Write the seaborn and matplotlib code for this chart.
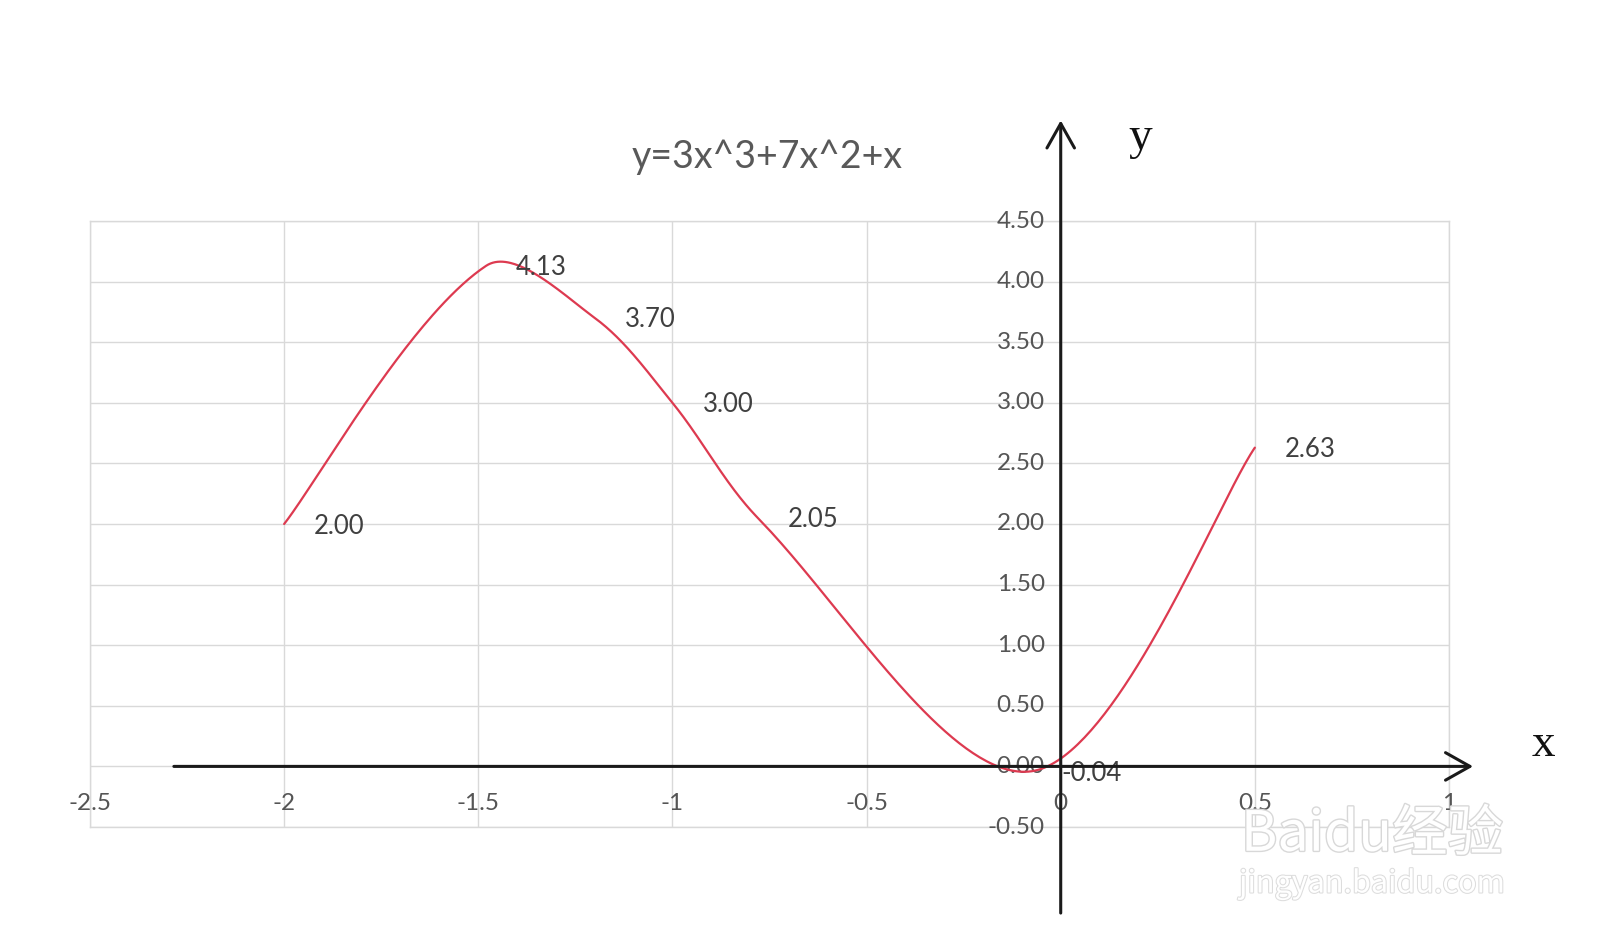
import numpy as np
import pandas as pd
import matplotlib
matplotlib.use("Agg")
import matplotlib.pyplot as plt
import matplotlib.patheffects as pe
import seaborn as sns

# ---- data ----
x_pts = [-2.0, -1.48, -1.2, -1.0, -0.78, -0.075, 0.5]
y_pts = [2.00, 4.13, 3.70, 3.00, 2.05, -0.04, 2.63]
point_labels = ["2.00", "4.13", "3.70", "3.00", "2.05", "-0.04", "2.63"]
x_ticks = [-2.5, -2, -1.5, -1, -0.5, 0, 0.5, 1]
x_tick_labels = ["-2.5", "-2", "-1.5", "-1", "-0.5", "0", "0.5", "1"]
y_ticks = [-0.5, 0, 0.5, 1, 1.5, 2, 2.5, 3, 3.5, 4, 4.5]
y_tick_labels = ["-0.50", "0.00", "0.50", "1.00", "1.50", "2.00", "2.50",
                 "3.00", "3.50", "4.00", "4.50"]
title = "y=3x^3+7x^2+x"

W, H = 1600, 939
AX_L, AX_R, AX_T, AX_B = 90, 1449, 221, 827
SX = (AX_R - AX_L) / 3.5   # pixels per x unit
SY = (AX_B - AX_T) / 5.0   # pixels per y unit


def smooth(xs, ys, n=80):
    """Excel-like smoothed line: cubic Bezier, tangent parallel to the
    neighbour chord, control arms proportional to the adjacent chord lengths
    (computed in screen space)."""
    P = np.column_stack([np.asarray(xs) * SX, np.asarray(ys) * SY]).astype(float)
    m = len(P)
    tang = np.zeros_like(P)
    armf = np.zeros(m)
    armb = np.zeros(m)
    for i in range(m):
        a = P[max(i - 1, 0)]
        b = P[min(i + 1, m - 1)]
        tang[i] = b - a
        d1 = np.linalg.norm(P[i] - a)
        d2 = np.linalg.norm(b - P[i])
        tot = d1 + d2
        armf[i] = d2 / tot / 3.0 if tot else 0
        armb[i] = d1 / tot / 3.0 if tot else 0
    armf[0] = 1 / 6.0
    armb[-1] = 1 / 6.0
    out = []
    t = np.linspace(0, 1, n)[:, None]
    for i in range(m - 1):
        p0, p3 = P[i], P[i + 1]
        c1 = p0 + tang[i] * armf[i]
        c2 = p3 - tang[i + 1] * armb[i + 1]
        seg = ((1 - t) ** 3) * p0 + 3 * ((1 - t) ** 2) * t * c1 + 3 * (1 - t) * t ** 2 * c2 + t ** 3 * p3
        out.append(seg if i == 0 else seg[1:])
    C = np.vstack(out)
    return C[:, 0] / SX, C[:, 1] / SY


sns.set_theme(style="white")
plt.rcParams["font.family"] = ["Lato", "DejaVu Sans"]

fig = plt.figure(figsize=(W / 100, H / 100), dpi=100)
fig.patch.set_facecolor("white")
ax = fig.add_axes([AX_L / W, 1 - AX_B / H, (AX_R - AX_L) / W, (AX_B - AX_T) / H])
ax.set_facecolor("white")

cx, cy = smooth(x_pts, y_pts)
df = pd.DataFrame({"x": cx, "y": cy})
sns.lineplot(data=df, x="x", y="y", sort=False, ax=ax, color="#DD3A50",
             linewidth=1.6, zorder=4)

ax.set_xlim(-2.5, 1)
ax.set_ylim(-0.5, 4.5)
ax.set_xticks(x_ticks)
ax.set_yticks(y_ticks)
ax.grid(True, color="#d9d9d9", linewidth=1.0)
ax.tick_params(length=0, labelbottom=False, labelleft=False)
for s in ax.spines.values():
    s.set_color("#d9d9d9")
    s.set_linewidth(1.0)
ax.set_xlabel("")
ax.set_ylabel("")

# tick labels positioned like Excel (at the axes crossing)
for v, lab in zip(y_ticks, y_tick_labels):
    ax.annotate(lab, xy=(0, v), xytext=(-16, 0), textcoords="offset pixels",
                ha="right", va="center", fontsize=17.5, color="#555555",
                annotation_clip=False, zorder=3)
for v, lab in zip(x_ticks, x_tick_labels):
    ax.annotate(lab, xy=(v, 0), xytext=(0, -37), textcoords="offset pixels",
                ha="center", va="center", fontsize=17.5, color="#555555",
                annotation_clip=False, zorder=3)

# data labels
for xv, yv, lab in zip(x_pts, y_pts, point_labels):
    ax.annotate(lab, xy=(xv, yv), xytext=(30, -2), textcoords="offset pixels",
                ha="left", va="center", fontsize=18.5, color="#404040",
                annotation_clip=False, zorder=5)

# hand-drawn coordinate arrows
arrow = dict(arrowstyle="->,head_length=0.8,head_width=0.45", lw=2.2,
             color="#1a1a1a", mutation_scale=22, shrinkA=0, shrinkB=0)
ax.annotate("", xy=(1.062, 0), xytext=(-2.284, 0), arrowprops=arrow,
            annotation_clip=False, zorder=6)
ax.annotate("", xy=(0, 5.33), xytext=(0, -1.21), arrowprops=arrow,
            annotation_clip=False, zorder=6)

# texts
fig.text(767 / W, 1 - 157 / H, title, ha="center", va="center",
         fontsize=27, color="#595959")
fig.text(1140 / W, 1 - 138 / H, "y", ha="center", va="center",
         fontsize=34, family="Liberation Serif", color="#111111")
fig.text(1543 / W, 1 - 745 / H, "x", ha="center", va="center",
         fontsize=34, family="Liberation Serif", color="#111111")

# watermark
wm = [pe.withStroke(linewidth=2, foreground="#d8d8d8")]
fig.text(1372 / W, 1 - 835 / H, "Baidu经验", ha="center", va="center",
         fontsize=40, color="white", family=["Noto Sans CJK SC", "DejaVu Sans"],
         path_effects=wm, zorder=10)
fig.text(1372 / W, 1 - 884 / H, "jingyan.baidu.com", ha="center", va="center",
         fontsize=22, color="white", family=["Noto Sans CJK SC", "DejaVu Sans"],
         path_effects=[pe.withStroke(linewidth=1.5, foreground="#dddddd")], zorder=10)

fig.savefig("out.png", dpi=100, facecolor="white")
